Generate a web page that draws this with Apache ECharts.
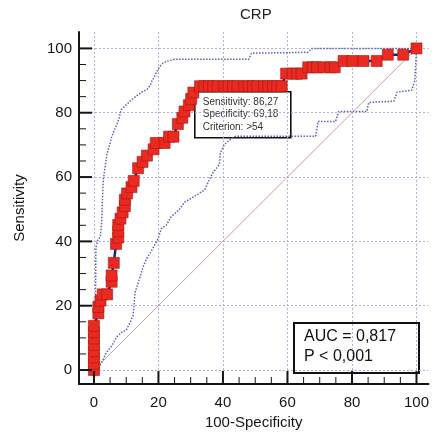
<!DOCTYPE html>
<html lang="en">
<head>
<meta charset="UTF-8">
<title>CRP</title>
<style>
    html, body { margin: 0; padding: 0; background: #fff; }
    #main { width: 432px; height: 435px; }
</style>
</head>
<body>
<div id="main"></div>
<script src="https://cdn.jsdelivr.net/npm/echarts@6/dist/echarts.min.js"></script>
<script>
    // ROC points: [100-Specificity, Sensitivity]
    var rocCurve = [
        [0, 0], [0, 1.96], [0, 3.92], [0, 5.88], [0, 7.84], [0, 9.8], [0, 11.76], [0, 13.73],
        [1.37, 17.65], [1.37, 19.61], [2.05, 21.57], [2.74, 23.53], [4.11, 23.53],
        [5.48, 27.45], [5.48, 29.41], [6.16, 33.33], [6.85, 39.22], [7.53, 41.18],
        [7.53, 43.14], [7.53, 45.1], [8.22, 47.06], [8.9, 49.02], [9.59, 50.98], [9.59, 52.94],
        [10.27, 54.9], [11.64, 56.86], [12.33, 58.82], [13.7, 62.75], [15.07, 64.71],
        [16.44, 66.67], [18.49, 68.63], [19.18, 70.59], [21.92, 70.59], [23.29, 72.55],
        [24.66, 72.55], [26.03, 76.47], [27.4, 78.43], [28.08, 80.39], [29.45, 82.35],
        [30.14, 84.31], [30.82, 86.27], [32.88, 88.24], [34.25, 88.24], [35.62, 88.24],
        [36.99, 88.24], [38.36, 88.24], [40.41, 88.24], [41.78, 88.24], [43.15, 88.24],
        [44.52, 88.24], [46.58, 88.24], [47.95, 88.24], [49.32, 88.24], [50.68, 88.24],
        [52.74, 88.24], [54.11, 88.24], [55.48, 88.24], [56.85, 88.24], [58.22, 88.24],
        [59.59, 92.16], [61.64, 92.16], [63.01, 92.16], [64.38, 92.16],
        [66.44, 94.12], [67.81, 94.12], [69.18, 94.12], [71.23, 94.12], [73.29, 94.12], [74.66, 94.12],
        [77.4, 96.08], [80.14, 96.08], [83.56, 96.08], [87.67, 96.08],
        [91.1, 98.04], [95.89, 98.04], [100, 100]
    ];

    var upperBound = [
        [0.3, 0], [0.5, 20], [0.6, 38], [1.2, 40.5], [2, 41.5], [2.4, 46], [2.6, 52],
        [2.9, 59], [3.5, 63.5], [4, 67], [5, 70.5], [5.5, 72.5], [6.5, 75], [7.5, 77.3],
        [8.5, 81], [9.5, 82], [10.6, 83], [12, 84.3], [13.7, 85.6], [15, 86.5], [16.3, 87.1],
        [17.5, 88.5], [17.8, 89.5], [18.8, 91.3], [19.6, 93], [20.4, 94.4], [21.5, 95.5],
        [22.4, 95.9], [25, 96.6], [48, 96.6], [48.8, 98.5], [66.4, 98.8], [67.5, 100], [100, 100]
    ];

    var lowerBound = [
        [0.8, 0], [1.9, 1.5], [2.5, 2.6], [3.9, 5.5], [5.5, 7.5], [7, 10.2], [8.5, 11.7],
        [10, 12.4], [11.1, 14.6], [12.1, 17], [12.4, 19.5], [12.7, 24], [14.2, 28.6],
        [15.2, 32], [16.3, 34.6], [17.8, 37], [19.8, 40.6], [20.9, 44], [22.4, 45],
        [23.9, 47.6], [25.5, 49], [26.5, 50], [28.1, 52.2], [31.2, 54], [34.3, 56],
        [35.8, 59.2], [36.8, 61.3], [38.9, 63.9], [39.2, 67.5], [40.4, 70], [42, 71.5],
        [44, 72.7], [68.7, 72.7], [69.5, 77.3], [74.9, 77.3], [75.9, 80.4], [84.6, 80.4],
        [85.2, 83.2], [93, 83.6], [94, 86.4], [98.5, 87], [99.5, 90], [100, 100]
    ];

    var diagonal = [[0, 0], [100, 100]];

    var majorTicks = [0, 20, 40, 60, 80, 100];
    var minorTicks = [5, 10, 15, 25, 30, 35, 45, 50, 55, 65, 70, 75, 85, 90, 95];

    var font = "'Liberation Sans', Arial, sans-serif";
    var ink = '#151515';
    var xMin = -4.63, xMax = 103.7;
    var yMin = -4.34, yMax = 105.1;

    // tick marks drawn inward from the axis lines, placed through the axis scales
    function tickSeries(values, horizontal, len, width) {
        return {
            type: 'custom',
            silent: true,
            clip: false,
            z: 20,
            data: values.map(function (v) { return horizontal ? [v, yMin] : [xMin, v]; }),
            renderItem: function (params, api) {
                var p = api.coord([api.value(0), api.value(1)]);
                var shape = horizontal
                    ? { x1: p[0], y1: p[1], x2: p[0], y2: p[1] - len }
                    : { x1: p[0], y1: p[1], x2: p[0] + len, y2: p[1] };
                return { type: 'line', shape: shape, style: { stroke: ink, lineWidth: width } };
            }
        };
    }

    var myChart = echarts.init(document.getElementById('main'));

    option = {
        animation: false,
        title: {
            text: 'CRP',
            left: 240,
            top: 7,
            padding: 0,
            textStyle: { fontFamily: font, fontSize: 15, fontWeight: 'normal', color: '#222' }
        },
        grid: { left: 79, right: 2, top: 32, bottom: 50 },
        xAxis: {
            type: 'value',
            min: xMin,
            max: xMax,
            position: 'bottom',
            name: '100-Specificity',
            nameLocation: 'middle',
            nameGap: 31,
            nameTextStyle: { fontFamily: font, fontSize: 15, color: ink },
            axisLine: { show: true, onZero: false, lineStyle: { color: ink, width: 2 } },
            axisTick: { show: false, customValues: majorTicks },
            axisLabel: { customValues: majorTicks, margin: 11, fontFamily: font, fontSize: 15, color: ink },
            splitLine: { show: true, lineStyle: { color: '#aeb2d6', type: [2, 2], width: 1 } }
        },
        yAxis: {
            type: 'value',
            min: yMin,
            max: yMax,
            position: 'left',
            name: 'Sensitivity',
            nameLocation: 'middle',
            nameGap: 52,
            nameTextStyle: { fontFamily: font, fontSize: 15, color: ink },
            axisLine: { show: true, onZero: false, lineStyle: { color: ink, width: 2 } },
            axisTick: { show: false, customValues: majorTicks },
            axisLabel: { customValues: majorTicks, margin: 7, fontFamily: font, fontSize: 15, color: ink },
            splitLine: { show: true, lineStyle: { color: '#aeb2d6', type: [2, 2], width: 1 } }
        },
        series: [
            {
                name: 'Reference',
                type: 'line',
                data: diagonal,
                symbol: 'none',
                lineStyle: { color: '#c99a9a', width: 1 },
                z: 1
            },
            {
                name: 'Upper CI',
                type: 'line',
                data: upperBound,
                symbol: 'none',
                lineStyle: { color: '#5a62b8', width: 1.5, type: [1.5, 1.5] },
                z: 2
            },
            {
                name: 'Lower CI',
                type: 'line',
                data: lowerBound,
                symbol: 'none',
                lineStyle: { color: '#5a62b8', width: 1.5, type: [1.5, 1.5] },
                z: 2
            },
            {
                name: 'ROC',
                type: 'line',
                data: rocCurve,
                symbol: 'rect',
                symbolSize: 11,
                showAllSymbol: true,
                itemStyle: { color: '#ea2a20', borderColor: '#a01a14', borderWidth: 0.6 },
                lineStyle: { color: '#1d2082', width: 2.5 },
                z: 5
            },
            tickSeries(majorTicks, true, 13, 2),
            tickSeries(minorTicks, true, 7, 1),
            tickSeries(majorTicks, false, 13, 2),
            tickSeries(minorTicks, false, 7, 1)
        ],
        graphic: [
            {
                type: 'group',
                left: 194,
                top: 91,
                z: 100,
                children: [
                    { type: 'rect', shape: { x: 0, y: 0, width: 96, height: 46 },
                      style: { fill: '#fff', stroke: '#111', lineWidth: 1.6 } },
                    { type: 'text', x: 8, y: 10, style: { text: 'Sensitivity: 86,27', font: '10px ' + font, fill: '#333', verticalAlign: 'middle' } },
                    { type: 'text', x: 8, y: 22.5, style: { text: 'Specificity: 69,18', font: '10px ' + font, fill: '#333', verticalAlign: 'middle' } },
                    { type: 'text', x: 8, y: 35, style: { text: 'Criterion: >54', font: '10px ' + font, fill: '#333', verticalAlign: 'middle' } }
                ]
            },
            {
                type: 'group',
                left: 293,
                top: 322,
                z: 100,
                children: [
                    { type: 'rect', shape: { x: 0, y: 0, width: 125, height: 50 },
                      style: { fill: '#fff', stroke: '#111', lineWidth: 2 } },
                    { type: 'text', x: 10, y: 14, style: { text: 'AUC = 0,817', font: '16px ' + font, fill: '#111', verticalAlign: 'middle' } },
                    { type: 'text', x: 10, y: 34, style: { text: 'P < 0,001', font: '16px ' + font, fill: '#111', verticalAlign: 'middle' } }
                ]
            }
        ]
    };

    myChart.setOption(option);
</script>
</body>
</html>
